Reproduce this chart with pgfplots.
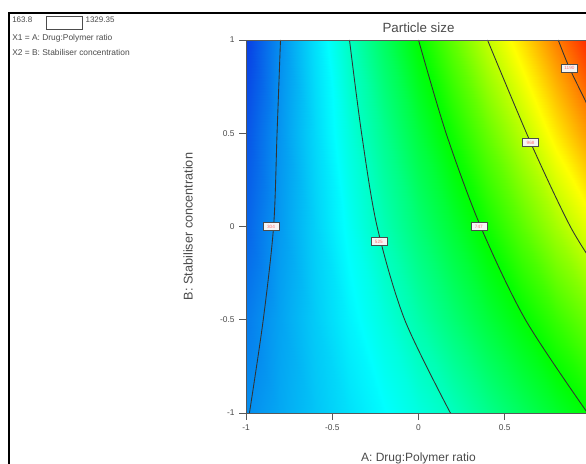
\documentclass[border=0pt]{standalone}
\usepackage{fontspec}
\setmainfont{Liberation Sans}
\usepackage{pgfplots}
\pgfplotsset{compat=1.18}
\definecolor{txt}{RGB}{75,75,75}
\begin{document}
\begin{tikzpicture}
\useasboundingbox (0,0) rectangle (439.5pt,348pt);
\clip (0,0) rectangle (439.5pt,348pt);
\fill[white] (0,0) rectangle (439.5pt,348pt);
% outer frame
\draw[black, line width=2.2pt] (6.75pt,-10pt) -- (6.75pt,338.25pt) -- (460pt,338.25pt);
% legend
\node[anchor=west, inner sep=0pt, font=\fontsize{6}{7}\selectfont, text=txt] at (9pt,333.5pt) {163.8};
\draw[black!70, line width=0.5pt] (34.5pt,336pt) rectangle (61.5pt,326pt);
\node[anchor=west, inner sep=0pt, font=\fontsize{6}{7}\selectfont, text=txt] at (64pt,333.5pt) {1329.35};
\node[anchor=west, inner sep=0pt, font=\fontsize{6.3}{7}\selectfont, text=txt] at (9pt,319.5pt) {X1 = A: Drug:Polymer ratio};
\node[anchor=west, inner sep=0pt, font=\fontsize{6.3}{7}\selectfont, text=txt] at (9pt,308.25pt) {X2 = B: Stabiliser concentration};
\begin{axis}[
  at={(184.5pt,38.25pt)}, anchor=south west,
  scale only axis, width=258.75pt, height=279.75pt,
  xmin=-1, xmax=1, ymin=-1, ymax=1,
  view={0}{90},
  colormap={de}{rgb255=(10,40,225) rgb255=(0,255,255) rgb255=(0,255,0) rgb255=(255,255,0) rgb255=(255,0,0)},
  point meta min=163.8, point meta max=1329.35,
  axis on top,
  xtick={-1,-0.5,0,0.5,1}, xticklabels={-1,-0.5,0,0.5,{}},
  ytick={-1,-0.5,0,0.5,1}, yticklabels={-1,-0.5,0,0.5,1},
  ztick=\empty,
  xtick pos=left, ytick pos=left,
  tick align=outside, major tick length=5pt,
  tick style={black!65, line width=0.6pt},
  axis line style={black!65, line width=0.6pt},
  ticklabel style={font=\fontsize{6.3}{7}\selectfont, text=txt},
  title={Particle size},
  title style={at={(axis description cs:0.5,1.0125)}, anchor=center, font=\fontsize{10}{11}\selectfont, text=txt},
  xlabel={A: Drug:Polymer ratio},
  xlabel style={at={(axis description cs:0.5,-0.1206)}, anchor=center, font=\fontsize{9}{10}\selectfont, text=txt},
  ylabel={B: Stabiliser concentration},
  ylabel style={at={(axis description cs:-0.168,0.5)}, anchor=center, rotate=0, font=\fontsize{9.5}{10}\selectfont, text=txt},
]
\addplot3[surf, shader=interp, mesh/cols=11, point meta=explicit] table[x=x, y=y, z=v, meta=v] {
x y v
-1 -1 300.2
-0.8 -1 337.5
-0.6 -1 375.9
-0.4 -1 414.4
-0.2 -1 451.7
0 -1 490.2
0.2 -1 529.8
0.4 -1 584.6
0.6 -1 640.5
0.8 -1 695.3
1 -1 751.2
-1 -0.5 276.9
-0.8 -0.5 330.5
-0.6 -0.5 385.3
-0.4 -0.5 438.9
-0.2 -0.5 492.5
0 -0.5 550.8
0.2 -0.5 613.7
0.4 -0.5 676.6
0.6 -0.5 739.6
0.8 -0.5 807.2
1 -0.5 874.8
-1 0 244.2
-0.8 0 318.8
-0.6 0 392.2
-0.4 0 465.7
-0.2 0 540.3
0 0 613.7
0.2 0 687.1
0.4 0 764.1
0.6 0 849.1
0.8 0 934.2
1 0 1019.3
-1 0.5 222.1
-0.8 0.5 313.0
-0.6 0.5 402.7
-0.4 0.5 493.7
-0.2 0.5 583.4
0 0.5 674.3
0.2 0.5 766.4
0.4 0.5 862.0
0.6 0.5 958.7
0.8 0.5 1061.3
1 0.5 1163.9
-1 1 192.9
-0.8 1 303.7
-0.6 1 414.4
-0.4 1 525.1
-0.2 1 635.8
0 1 746.6
0.2 1 857.3
0.4 1 968.0
0.6 1 1072.9
0.8 1 1183.7
1 1 1294.4
};
% contour lines
\addplot3[black!80, line width=0.65pt, smooth] coordinates {(-0.98,-1,1400) (-0.90,-0.5,1400) (-0.84,0,1400) (-0.82,0.5,1400) (-0.80,1,1400)};
\addplot3[black!80, line width=0.65pt, smooth] coordinates {(0.185,-1,1400) (-0.08,-0.5,1400) (-0.24,0,1400) (-0.33,0.5,1400) (-0.40,1,1400)};
\addplot3[black!80, line width=0.65pt, smooth] coordinates {(0.98,-1,1400) (0.62,-0.5,1400) (0.36,0,1400) (0.16,0.5,1400) (0.0,1,1400)};
\addplot3[black!80, line width=0.65pt, smooth] coordinates {(1.05,-0.25,1400) (0.88,0,1400) (0.65,0.45,1400) (0.40,1,1400)};
\addplot3[black!80, line width=0.65pt, smooth] coordinates {(1.08,0.45,1400) (0.98,0.65,1400) (0.875,0.85,1400) (0.81,1,1400)};
% contour labels
\tikzset{clab/.style={draw=black!70, fill=gray!8, inner sep=0.5pt, minimum width=12pt, minimum height=6pt, font=\fontsize{3.5}{4}\selectfont, text=red!55}}
\node[clab] at (axis cs:-0.855,0,1400) {304};
\node[clab] at (axis cs:-0.23,-0.08,1400) {525};
\node[clab] at (axis cs:0.35,0.0,1400) {747};
\node[clab] at (axis cs:0.65,0.45,1400) {968};
\node[clab] at (axis cs:0.875,0.85,1400) {1190};
\end{axis}
\end{tikzpicture}
\end{document}
